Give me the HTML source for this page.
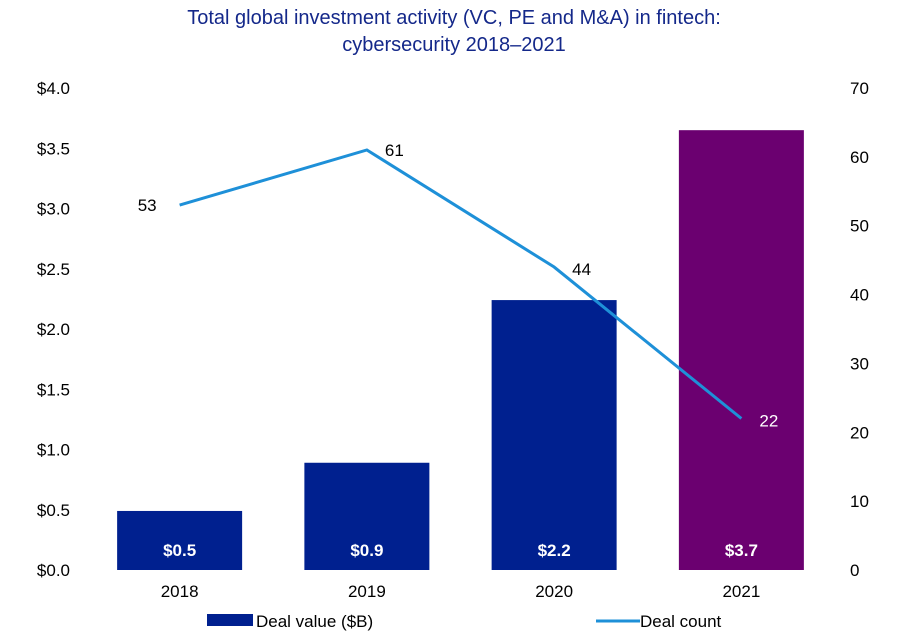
<!DOCTYPE html>
<html><head><meta charset="utf-8"><style>
body{margin:0;background:#fff;}
svg{display:block;font-family:"Liberation Sans",sans-serif;}
</style></head><body>
<svg id="chart" width="900" height="635">
<text x="454" y="24" text-anchor="middle" font-size="20" fill="#14288a">Total global investment activity (VC, PE and M&amp;A) in fintech:</text>
<text x="454" y="51" text-anchor="middle" font-size="20" fill="#14288a">cybersecurity 2018–2021</text>
<g id="g"></g>
</svg>
<script>
const categories=["2018","2019","2020","2021"];
const dealValues=[0.49,0.89,2.24,3.65];
const valueLabels=["$0.5","$0.9","$2.2","$3.7"];
const dealCounts=[53,61,44,22];
const leftTicks=[0,0.5,1,1.5,2,2.5,3,3.5,4];
const rightTicks=[0,10,20,30,40,50,60,70];
const barColors=["#00208f","#00208f","#00208f","#6b0070"];
const NS="http://www.w3.org/2000/svg";
const g=document.getElementById('g');
const y0=570,y1=88,x0=86,x1=835;
const yL=v=>y0-(v/4)*(y0-y1);
const yR=v=>y0-(v/70)*(y0-y1);
const band=(x1-x0)/categories.length;
const xC=i=>x0+band*(i+0.5);
const bw=125;
function mk(t,a,txt){const e=document.createElementNS(NS,t);for(const k in a)e.setAttribute(k,a[k]);if(txt!=null)e.textContent=txt;g.appendChild(e);return e;}
leftTicks.forEach(v=>{const e=mk('text',{x:70,y:yL(v)+6,'text-anchor':'end','font-size':17,fill:'#000'},'$'+v.toFixed(1));

});
rightTicks.forEach(v=>{const e=mk('text',{x:850,y:yR(v)+6,'font-size':17,fill:'#000'},String(v));

});
categories.forEach((c,i)=>{
const top=yL(dealValues[i]);
const r=mk('rect',{x:xC(i)-bw/2,y:top,width:bw,height:y0-top,fill:barColors[i]});


const l=mk('text',{x:xC(i),y:556,'text-anchor':'middle','font-size':17,'font-weight':'bold',fill:'#fff'},valueLabels[i]);


const t=mk('text',{x:xC(i),y:597,'text-anchor':'middle','font-size':17,fill:'#000'},c);


});
const pts=dealCounts.map((v,i)=>xC(i)+','+yR(v)).join(' ');
const pl=mk('polyline',{points:pts,fill:'none',stroke:'#1e90d8','stroke-width':3});


const off=[[-23,6,'end'],[18,6,'start'],[18,8,'start'],[18,8,'start']];
dealCounts.forEach((v,i)=>{
const e=mk('text',{x:xC(i)+off[i][0],y:yR(v)+off[i][1]-(i==1||i==2?0:0),'text-anchor':off[i][2],'font-size':17,fill:i==3?'#fff':'#000'},String(v));


});
const lr=mk('rect',{x:207,y:614,width:46,height:12,fill:'#00208f'});


const lt=mk('text',{x:256,y:627,'font-size':17,fill:'#000'},'Deal value ($B)');


const ll=mk('line',{x1:596,y1:621,x2:640,y2:621,stroke:'#1e90d8','stroke-width':3});


const lt2=mk('text',{x:640,y:627,'font-size':17,fill:'#000'},'Deal count');


</script>
</body></html>
